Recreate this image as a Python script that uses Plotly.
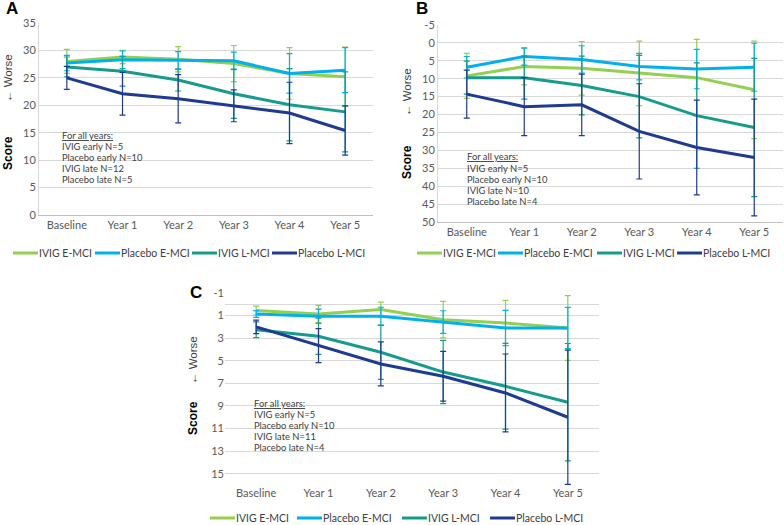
import plotly.graph_objects as go

W, H = 784, 525

categories = ["Baseline", "Year 1", "Year 2", "Year 3", "Year 4", "Year 5"]
series_names = ["IVIG E-MCI", "Placebo E-MCI", "IVIG L-MCI", "Placebo L-MCI"]
colors = ["#92D050", "#00B0F0", "#169C8C", "#1F3A93"]

# Panel A
a_ivig_e = [28.0, 28.8, 28.4, 27.6, 25.8, 25.2]
a_plac_e = [27.7, 28.3, 28.2, 28.1, 25.8, 26.4]
a_ivig_l = [27.0, 26.2, 24.6, 22.1, 20.1, 18.8]
a_plac_l = [25.0, 22.1, 21.2, 19.9, 18.6, 15.4]
a_ivig_e_err = [2.2, 1.2, 2.3, 3.3, 4.7, 5.4]
a_plac_e_err = [1.4, 1.6, 1.6, 1.6, 3.6, 4.1]
a_ivig_l_err = [1.8, 2.7, 2.0, 4.5, 6.6, 7.3]
a_plac_l_err = [2.1, 3.9, 4.4, 2.9, 5.6, 4.5]
a_ticks = [0, 5, 10, 15, 20, 25, 30, 35]
a_ticktext = ["0", "5", "10", "15", "20", "25", "30", "35"]

# Panel B
b_ivig_e = [9.2, 6.6, 7.1, 8.5, 9.7, 13.1]
b_plac_e = [6.8, 3.8, 4.6, 6.6, 7.3, 6.8]
b_ivig_l = [9.7, 9.7, 11.9, 15.0, 20.3, 23.6]
b_plac_l = [14.3, 17.8, 17.3, 24.7, 29.2, 32.0]
b_ivig_e_err = [6.3, 5.1, 7.5, 9.0, 10.7, 13.6]
b_plac_e_err = [3.0, 2.4, 3.8, 3.7, 5.5, 6.7]
b_ivig_l_err = [4.6, 6.0, 8.2, 11.5, 14.7, 19.3]
b_plac_l_err = [6.7, 8.1, 8.6, 13.3, 13.2, 16.3]
b_ticks = [-5, 0, 5, 10, 15, 20, 25, 30, 35, 40, 45, 50]
b_ticktext = ["-5", "0", "5", "10", "15", "20", "25", "30", "35", "40", "45", "50"]

# Panel C
c_ivig_e = [0.56, 0.86, 0.47, 1.36, 1.65, 2.1]
c_plac_e = [0.86, 1.06, 1.06, 1.57, 2.1, 2.1]
c_ivig_l = [2.25, 2.83, 4.25, 6.0, 7.26, 8.67]
c_plac_l = [2.0, 3.66, 5.28, 6.37, 7.85, 10.0]
c_ivig_e_err = [0.4, 0.77, 0.67, 1.62, 2.0, 2.86]
c_plac_e_err = [0.3, 0.64, 0.8, 1.0, 1.57, 1.83]
c_ivig_l_err = [0.7, 1.6, 2.4, 2.8, 3.8, 5.2]
c_plac_l_err = [0.6, 1.5, 1.95, 2.2, 3.45, 5.95]
c_ticks = [-1, 1, 3, 5, 7, 9, 11, 13, 15]
c_ticktext = ["-1", "1", "3", "5", "7", "9", "11", "13", "15"]

n_text = {
    "A": ["IVIG early N=5", "Placebo early N=10", "IVIG late N=12", "Placebo late N=5"],
    "B": ["IVIG early N=5", "Placebo early N=10", "IVIG late N=10", "Placebo late N=4"],
    "C": ["IVIG early N=5", "Placebo early N=10", "IVIG late N=11", "Placebo late N=4"],
}


def fx(px):
    return px / W


def fy(py):
    return 1 - py / H


FONT = "Lato"
panels = [
    dict(key="A", xa="x", ya="y",
         vals=[a_ivig_e, a_plac_e, a_ivig_l, a_plac_l],
         errs=[a_ivig_e_err, a_plac_e_err, a_ivig_l_err, a_plac_l_err],
         ticks=a_ticks, ticktext=a_ticktext,
         xdom=(39, 373), ydom=(23, 215), rng=[0, 35],
         axline=True, zl=False,
         leg_y=253, leg_x=[13, 95, 192, 272],
         note=(61, 135), label=(4, 8),
         worse=(8, 78), score=(8, 153)),
    dict(key="B", xa="x2", ya="y2",
         vals=[b_ivig_e, b_plac_e, b_ivig_l, b_plac_l],
         errs=[b_ivig_e_err, b_plac_e_err, b_ivig_l_err, b_plac_l_err],
         ticks=b_ticks, ticktext=b_ticktext,
         xdom=(438, 783), ydom=(25, 222), rng=[50, -5],
         axline=True, zl=False,
         leg_y=253, leg_x=[417, 498, 597, 677],
         note=(466, 157), label=(414, 8),
         worse=(407, 92), score=(407, 162)),
    dict(key="C", xa="x3", ya="y3",
         vals=[c_ivig_e, c_plac_e, c_ivig_l, c_plac_l],
         errs=[c_ivig_e_err, c_plac_e_err, c_ivig_l_err, c_plac_l_err],
         ticks=c_ticks, ticktext=c_ticktext,
         xdom=(225, 599), ydom=(293, 485), rng=[16, -1],
         axline=False, zl=True,
         leg_y=518, leg_x=[210, 297, 402, 490],
         note=(253, 403), label=(188, 292),
         worse=(193, 360), score=(193, 418)),
]

fig = go.Figure()
layout = dict(
    width=W, height=H, margin=dict(l=0, r=0, t=0, b=0, autoexpand=False),
    paper_bgcolor="white", plot_bgcolor="white", showlegend=False,
    font=dict(family=FONT, size=11, color="#595959"),
    annotations=[], shapes=[],
)

for p in panels:
    for name, col, v, e in zip(series_names, colors, p["vals"], p["errs"]):
        fig.add_trace(go.Scatter(
            x=categories, y=v, name=name, mode="lines",
            line=dict(color=col, width=3),
            error_y=dict(type="data", array=e, visible=True, color=col,
                         thickness=1.2, width=3),
            xaxis=p["xa"], yaxis=p["ya"], showlegend=False,
            hoverinfo="skip",
        ))
    xname = "xaxis" + p["xa"][1:]
    yname = "yaxis" + p["ya"][1:]
    layout[xname] = dict(
        domain=[fx(p["xdom"][0]), fx(p["xdom"][1])], anchor=p["ya"],
        range=[-0.5, 5.5], automargin=False,
        showgrid=False, showline=p["axline"], linecolor="#BFBFBF", linewidth=1,
        ticks="", tickfont=dict(family=FONT, size=11, color="#595959"),
        fixedrange=True,
    )
    layout[yname] = dict(
        domain=[fy(p["ydom"][1]), fy(p["ydom"][0])], anchor=p["xa"],
        range=p["rng"], tickmode="array", tickvals=p["ticks"], ticktext=p["ticktext"],
        automargin=False,
        showgrid=True, gridcolor="#D9D9D9", gridwidth=1,
        zeroline=p["zl"], zerolinecolor="#D9D9D9", zerolinewidth=1,
        showline=p["axline"], linecolor="#D9D9D9", linewidth=1,
        ticks="", tickfont=dict(family=FONT, size=11, color="#595959"),
        fixedrange=True,
    )
    # legend (manual, one key line + label per series)
    for name, col, lx in zip(series_names, colors, p["leg_x"]):
        layout["shapes"].append(dict(
            type="line", xref="paper", yref="paper",
            x0=fx(lx), x1=fx(lx + 25), y0=fy(p["leg_y"]), y1=fy(p["leg_y"]),
            line=dict(color=col, width=3),
        ))
        layout["annotations"].append(dict(
            text=name, xref="paper", yref="paper",
            x=fx(lx + 25), y=fy(p["leg_y"]), xanchor="left", yanchor="middle",
            showarrow=False, borderpad=0,
            font=dict(family=FONT, size=10.5, color="#404040"),
        ))
    # panel letter
    layout["annotations"].append(dict(
        text="<b>" + p["key"] + "</b>", xref="paper", yref="paper",
        x=fx(p["label"][0]), y=fy(p["label"][1]), xanchor="left", yanchor="middle",
        showarrow=False, font=dict(family="Liberation Sans", size=17, color="black"),
    ))
    # y-axis titles
    layout["annotations"].append(dict(
        text="← Worse", xref="paper", yref="paper", textangle=-90,
        x=fx(p["worse"][0]), y=fy(p["worse"][1]), xanchor="center", yanchor="middle",
        showarrow=False, font=dict(family="Liberation Sans", size=11.5, color="#404040"),
    ))
    layout["annotations"].append(dict(
        text="<b>Score</b>", xref="paper", yref="paper", textangle=-90,
        x=fx(p["score"][0]), y=fy(p["score"][1]), xanchor="center", yanchor="middle",
        showarrow=False, font=dict(family="Liberation Sans", size=12, color="black"),
    ))
    # N notes
    lines = ["<u>For all years:</u>"] + n_text[p["key"]]
    for i, t in enumerate(lines):
        layout["annotations"].append(dict(
            text=t, xref="paper", yref="paper",
            x=fx(p["note"][0]), y=fy(p["note"][1] + i * 11.2),
            xanchor="left", yanchor="middle", showarrow=False, borderpad=0,
            font=dict(family=FONT, size=9.4, color="#404040"),
        ))

fig.update_layout(**layout)
fig.write_html("out.html", config={"displayModeBar": False, "staticPlot": True},
               post_script="document.body.style.margin='0';document.body.style.overflow='hidden';")
